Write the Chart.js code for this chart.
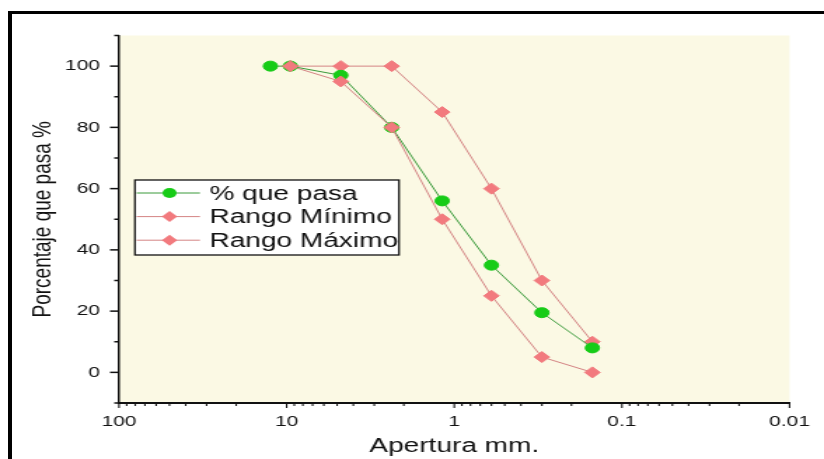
<!DOCTYPE html>
<html><head><meta charset="utf-8">
<script src="https://cdn.jsdelivr.net/npm/chart.js@4.4.1/dist/chart.umd.min.js"></script>
<style>
html,body{margin:0;padding:0;background:#fff;overflow:hidden;width:824px;height:459px}
#wrap{position:absolute;left:0;top:0;width:588px;height:459px;transform:scaleX(1.40136);transform-origin:0 0}
#frame{position:absolute;left:8px;top:11px;width:830px;height:460px;border-left:4px solid #000;border-top:3px solid #000;pointer-events:none}
</style></head>
<body>
<div id="wrap"><canvas id="c" width="588" height="459"></canvas></div>
<div id="frame"></div>
<script>
// ---- data ----
const pasaSizes   = [12.5, 9.5, 4.75, 2.36, 1.18, 0.6, 0.3, 0.15];
const pasaValues  = [100, 100, 97, 80, 56, 35, 19.5, 8];
const rangoSizes  = [9.5, 4.75, 2.36, 1.18, 0.6, 0.3, 0.15];
const minValues   = [100, 95, 80, 50, 25, 5, 0];
const maxValues   = [100, 100, 100, 85, 60, 30, 10];
const seriesNames = ['% que pasa', 'Rango Mínimo', 'Rango Máximo'];
const xTickValues = [100, 10, 1, 0.1, 0.01];
const yTickValues = [0, 20, 40, 60, 80, 100];
const yMinorValues = [-10, 10, 30, 50, 70, 90, 110];
const xTitle = 'Apertura mm.';
const yTitle = 'Porcentaje que pasa %';

const GREEN = '#17cc17', GREEN_LINE = '#3a9a3a';
const PINK = '#f27a7e', PINK_LINE = '#d48484';
const FONT = '"Liberation Sans", Arial, sans-serif';
const TEXT = '#111111';

function pts(xs, ys){ return xs.map((x,i)=>({x:x, y:ys[i]})); }

const datasets = [
  {label: seriesNames[1], data: pts(rangoSizes, minValues), order: 0,
   borderColor: PINK_LINE, backgroundColor: PINK, pointBackgroundColor: PINK, pointBorderColor: PINK,
   pointStyle: 'rectRot', pointRadius: 5.5, borderWidth: 1, showLine: true},
  {label: seriesNames[0], data: pts(pasaSizes, pasaValues), order: 1,
   borderColor: GREEN_LINE, backgroundColor: GREEN, pointBackgroundColor: GREEN, pointBorderColor: GREEN,
   pointStyle: 'circle', pointRadius: 5, borderWidth: 1, showLine: true},
  {label: seriesNames[2], data: pts(rangoSizes, maxValues), order: 2,
   borderColor: PINK_LINE, backgroundColor: PINK, pointBackgroundColor: PINK, pointBorderColor: PINK,
   pointStyle: 'rectRot', pointRadius: 5.5, borderWidth: 1, showLine: true}
];

const bgPlugin = {
  id: 'bg',
  beforeDraw(chart){
    const {ctx, chartArea: a} = chart;
    ctx.save(); ctx.fillStyle = '#fbf9e4';
    ctx.fillRect(a.left, a.top, a.right - a.left, a.bottom - a.top);
    ctx.restore();
  }
};

const tickPlugin = {
  id: 'ticks',
  afterDraw(chart){
    const ctx = chart.ctx, xs = chart.scales.x, ys = chart.scales.y, a = chart.chartArea;
    ctx.save(); ctx.strokeStyle = '#111';
    // x ticks (outward, below axis)
    ctx.lineWidth = 1.1;
    for (let d = -2; d <= 2; d++) {
      const base = Math.pow(10, d);
      for (let k = 1; k <= 9; k++) {
        if (d === 2 && k > 1) break;
        const v = k * base;
        const px = xs.getPixelForValue(v);
        const len = (k === 1) ? 5 : 3;
        ctx.beginPath(); ctx.moveTo(px, a.bottom); ctx.lineTo(px, a.bottom + len); ctx.stroke();
      }
    }
    // y ticks (outward, left)
    ctx.lineWidth = 1.5;
    yTickValues.forEach(v => {
      const py = ys.getPixelForValue(v);
      ctx.beginPath(); ctx.moveTo(a.left, py); ctx.lineTo(a.left - 6.4, py); ctx.stroke();
    });
    yMinorValues.forEach(v => {
      const py = ys.getPixelForValue(v);
      ctx.beginPath(); ctx.moveTo(a.left, py); ctx.lineTo(a.left - 3.4, py); ctx.stroke();
    });
    ctx.restore();
  }
};

function marker(ctx, style, r, x, y, color){
  ctx.fillStyle = color;
  ctx.beginPath();
  if (style === 'circle') { ctx.arc(x, y, r, 0, Math.PI*2); }
  else { ctx.moveTo(x, y - r); ctx.lineTo(x + r, y); ctx.lineTo(x, y + r); ctx.lineTo(x - r, y); ctx.closePath(); }
  ctx.fill();
}

const legendPlugin = {
  id: 'customLegend',
  afterDatasetsDraw(chart){
    const ctx = chart.ctx;
    const box = {l: 96.3, t: 180, r: 284.7, b: 255};
    ctx.save();
    ctx.fillStyle = '#ffffff';
    ctx.fillRect(box.l, box.t, box.r - box.l, box.b - box.t);
    ctx.strokeStyle = '#111'; ctx.lineWidth = 1.3;
    ctx.strokeRect(box.l, box.t, box.r - box.l, box.b - box.t);
    const order = [1, 0, 2];
    ctx.font = '20px ' + FONT;
    ctx.textBaseline = 'middle';
    order.forEach((di, i) => {
      const ds = chart.data.datasets[di];
      const y = 193 + i * 23.6;
      ctx.strokeStyle = ds.borderColor; ctx.lineWidth = 1;
      ctx.beginPath(); ctx.moveTo(97.5, y); ctx.lineTo(142.7, y); ctx.stroke();
      marker(ctx, ds.pointStyle, ds.pointRadius, 121, y, ds.pointBackgroundColor);
      ctx.fillStyle = TEXT;
      ctx.fillText(ds.label, 149.5, y + 1);
    });
    ctx.restore();
  }
};

new Chart(document.getElementById('c'), {
  type: 'scatter',
  data: {datasets: datasets},
  plugins: [bgPlugin, tickPlugin, legendPlugin],
  options: {
    responsive: false,
    animation: false,
    devicePixelRatio: 1,
    layout: {padding: {left: 0, right: 23.5, top: 35.5, bottom: 0}},
    plugins: {legend: {display: false}, tooltip: {enabled: false}},
    elements: {line: {tension: 0}},
    scales: {
      x: {
        type: 'logarithmic', reverse: true, min: 0.01, max: 100,
        afterBuildTicks: s => { s.ticks = xTickValues.map(v => ({value: v, major: true})); },
        afterFit: s => { s.height = 56; },
        grid: {display: false, drawTicks: false},
        border: {display: true, color: '#111', width: 2},
        ticks: {autoSkip: false, maxRotation: 0, padding: 10, color: TEXT,
                font: {family: FONT, size: 15},
                callback: v => String(v)},
        title: {display: true, text: xTitle, color: TEXT,
                font: {family: FONT, size: 20}, padding: {top: 0, bottom: 1}}
      },
      y: {
        min: -10, max: 110,
        afterBuildTicks: s => { s.ticks = yTickValues.map(v => ({value: v})); },
        afterFit: s => { s.width = 84.9; },
        grid: {display: false, drawTicks: false},
        border: {display: true, color: '#111', width: 1.5},
        ticks: {padding: 13.5, color: TEXT, font: {family: FONT, size: 15},
                callback: v => String(v)},
        title: {display: true, text: yTitle, color: TEXT,
                font: {family: FONT, size: 19}, padding: {top: 19.2, bottom: 0}}
      }
    }
  }
});
</script>
</body></html>
